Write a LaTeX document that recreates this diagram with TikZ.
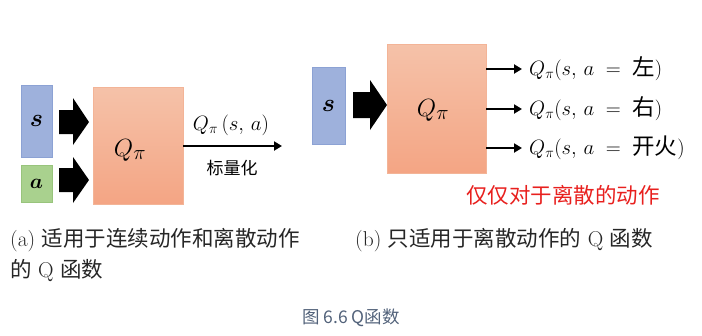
\documentclass[tikz,border=0pt]{standalone}
\usepackage{fontspec}
\usepackage{bm}
\newfontfamily\cjk{Noto Sans CJK SC}
\usetikzlibrary{arrows.meta}
\definecolor{sblue}{HTML}{9EB1DC}
\definecolor{sblueline}{HTML}{8CA2D4}
\definecolor{agreen}{HTML}{A9D18E}
\definecolor{aline}{HTML}{98C47C}
\definecolor{qtop}{HTML}{F5C2A9}
\definecolor{qbot}{HTML}{F4A584}
\definecolor{qline}{HTML}{F3B497}
\definecolor{capgray}{HTML}{52627A}
\definecolor{redtxt}{HTML}{E8201E}
\tikzset{
  inbox/.style={draw=sblueline, fill=sblue, line width=0.8pt, inner sep=0pt},
  abox/.style={draw=aline, fill=agreen, line width=0.8pt, inner sep=0pt},
  qbox/.style={draw=qline, line width=0.6pt, top color=qtop, bottom color=qbot, inner sep=0pt},
  outarrow/.style={line width=2pt, -{Triangle[length=8pt,width=9pt]}},
  bigarrow/.style={fill=black},
  lbl/.style={inner sep=0pt},
}
\newcommand{\fs}[1]{\fontsize{#1}{#1}\selectfont}
\newcommand{\ch}[1]{\mbox{\fs{22.5}\cjk #1}}
\begin{document}
\begin{tikzpicture}[x=1pt,y=-1pt]
\useasboundingbox (0,0) rectangle (702,335);
% ---------- (a) ----------
\node[inbox, minimum width=31pt, minimum height=72pt] (s1) at (36.5,121) {\fs{25}$\bm{s}$};
\node[abox, minimum width=31pt, minimum height=37pt] (a1) at (36.5,183.5) {\fs{20}$\bm{a}$};
\node[qbox, minimum width=90pt, minimum height=117pt] (q1) at (138,145.5) {};
\node[lbl] (q1t) at (130,150) {\fs{30}$Q_\pi$};
% block arrows
\fill[bigarrow] (59,110) -- (73,110) -- (73,98) -- (89,122) -- (73,145) -- (73,134) -- (59,134) -- cycle;
\fill[bigarrow] (59,168) -- (73,168) -- (73,157) -- (89,180) -- (73,203) -- (73,192) -- (59,192) -- cycle;
\coordinate (o1) at (282,146);
\draw[outarrow] (q1.east |- o1) -- (o1);
\node[lbl] (l1) at (231,125) {\fs{22.5}$Q_\pi\,(s,\,a)$};
\node[lbl] (l2) at (232,168) {\fs{17}\cjk 标量化};
% ---------- (b) ----------
\node[inbox, minimum width=33pt, minimum height=77pt] (s2) at (328.5,105.5) {\fs{25}$\bm{s}$};
\node[qbox, minimum width=99pt, minimum height=129pt] (q2) at (436.5,108.5) {};
\node[lbl] (q2t) at (433,110) {\fs{30}$Q_\pi$};
\fill[bigarrow] (353,92) -- (370,92) -- (370,80) -- (387,105) -- (370,130) -- (370,118) -- (353,118) -- cycle;
\coordinate (e1) at (522,69);
\coordinate (e2) at (522,109);
\coordinate (e3) at (522,148);
\draw[outarrow] (q2.east |- e1) -- (e1);
\draw[outarrow] (q2.east |- e2) -- (e2);
\draw[outarrow] (q2.east |- e3) -- (e3);
\node[lbl, anchor=west] (r1) at (529,69) {\fs{22.5}$Q_\pi(s,\,a\;=\;\ch{左})$};
\node[lbl, anchor=west] (r2) at (529,109) {\fs{22.5}$Q_\pi(s,\,a\;=\;\ch{右})$};
\node[lbl, anchor=west] (r3) at (529,148) {\fs{22.5}$Q_\pi(s,\,a\;=\;\ch{开火})$};
\node[lbl, text=redtxt] (red) at (563,195) {\fs{21.5}\cjk 仅仅对于离散的动作};
% ---------- captions ----------
\node[lbl, anchor=west, text=black!85] (ca1) at (10,240) {\fs{21.5}(a) {\cjk 适用于连续动作和离散动作}};
\node[lbl, anchor=west, text=black!85] (ca2) at (10,271) {\fs{21.5}{\cjk 的} Q {\cjk 函数}};
\node[lbl, anchor=west, text=black!85] (cb1) at (355,240) {\fs{21.5}(b) {\cjk 只适用于离散动作的} Q {\cjk 函数}};
\node[lbl, text=capgray] (cap) at (351,318) {\fs{17.5}\cjk 图 6.6 Q函数};
\end{tikzpicture}
\end{document}
